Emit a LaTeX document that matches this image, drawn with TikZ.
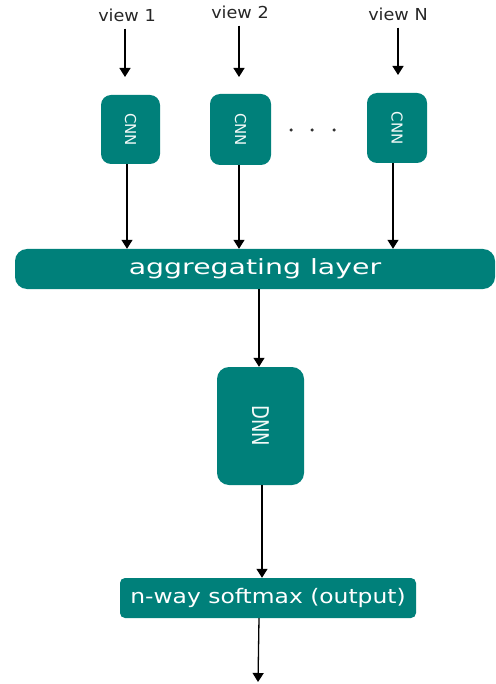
\documentclass[tikz,border=0pt]{standalone}
\usepackage{fontspec}
\setmainfont{DejaVu Sans}
\usetikzlibrary{arrows.meta}
\definecolor{teal1}{RGB}{0,128,122}
\begin{document}
\begin{tikzpicture}[x=1pt,y=-1pt,
  box/.style={fill=teal1,draw=none,text=white,inner sep=0pt},
  lbl/.style={inner sep=0pt,text=black!85,font=\fontsize{16.5}{18}\selectfont},
  rlbl/.style={rotate=-90,text=white!95!teal1,inner sep=0pt},
  dot/.style={circle,fill=black!80,inner sep=0pt,minimum size=3.5pt},
  arr/.style={draw=black,line width=1.3pt,-{Triangle[width=11pt,length=9pt]}}]
\useasboundingbox (0,0) rectangle (495,684);
% views
\node[lbl] (v1) at (127,15) {\scalebox{1.07}[1]{view 1}};
\node[lbl] (v2) at (240,12) {\scalebox{1.07}[1]{view 2}};
\node[lbl] (vn) at (398,14) {\scalebox{1.07}[1]{view N}};
\coordinate (a1) at (125,77);
\coordinate (a2) at (239,77);
\coordinate (an) at (398,75);
% CNNs
\node[box,rounded corners=10pt,minimum width=59pt,minimum height=69pt] (c1) at (130.5,129.5) {};
\node[box,rounded corners=10pt,minimum width=61pt,minimum height=71pt] (c2) at (240.5,129.5) {};
\node[box,rounded corners=10pt,minimum width=60pt,minimum height=70pt] (cn) at (397,128) {};
\node[rlbl,font=\fontsize{15}{17}\selectfont] (t1) at (c1) {CNN};
\node[rlbl,font=\fontsize{15}{17}\selectfont] (t2) at (c2) {CNN};
\node[rlbl,font=\fontsize{15}{17}\selectfont] (tn) at (cn) {CNN};
\node[dot] (d1) at (291,130) {};
\node[dot] (d2) at (312,130) {};
\node[dot] (d3) at (334,130) {};
% aggregating
\node[box,rounded corners=12pt,minimum width=480pt,minimum height=40pt,
  font=\fontsize{21}{23}\selectfont] (agg) at (255,269) {\scalebox{1.35}[1]{aggregating layer}};
% DNN
\node[box,rounded corners=12pt,minimum width=87pt,minimum height=118pt] (dnn) at (260.5,426) {};
\node[rlbl,font=\fontsize{18}{20}\selectfont] (td) at (dnn) {\scalebox{1}[1.28]{DNN}};
% softmax
\node[box,rounded corners=5pt,minimum width=296pt,minimum height=40pt,
  font=\fontsize{20}{22}\selectfont] (soft) at (268,598) {\scalebox{1.17}[1]{n-way softmax (output)}};
\coordinate (out) at (258,682);
% connectors
\draw[arr] ([yshift=-7pt]v1.south -| a1) -- (a1);
\draw[arr] ([yshift=-7pt]v2.south -| a2) -- (a2);
\draw[arr] ([yshift=-7pt]vn.south -| an) -- (an);
\draw[arr] ([xshift=-3.5pt]c1.south) -- ([xshift=-3.5pt]c1.south |- agg.north);
\draw[arr] ([xshift=-1.5pt]c2.south) -- ([xshift=-1.5pt]c2.south |- agg.north);
\draw[arr] ([xshift=-4pt]cn.south) -- ([xshift=-4pt]cn.south |- agg.north);
\draw[arr] ([xshift=-1.5pt]dnn.north |- agg.south) -- ([xshift=-1.5pt]dnn.north);
\draw[arr] ([xshift=1.5pt]dnn.south) -- ([xshift=1.5pt]dnn.south |- soft.north);
\draw[arr] ([xshift=-9pt]soft.south) -- (out);
\end{tikzpicture}
\end{document}
